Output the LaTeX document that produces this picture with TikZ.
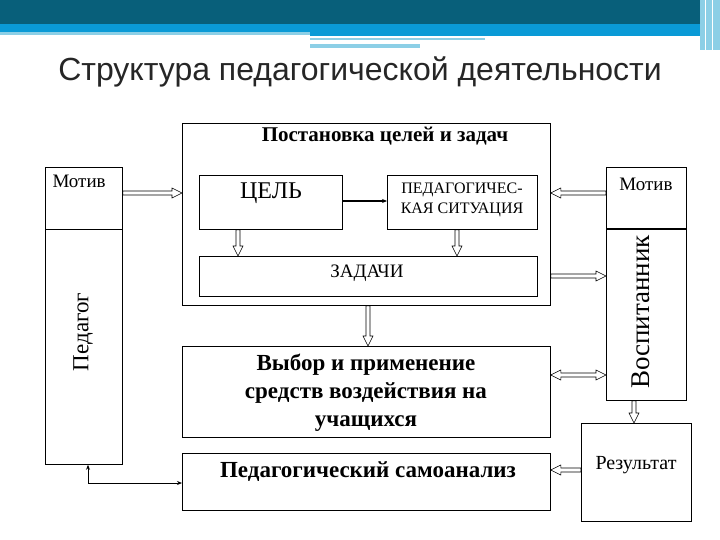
\documentclass[tikz,border=0pt]{standalone}
\usepackage{fontspec}
\setmainfont{Liberation Serif}
\newfontfamily\titlefont{Liberation Sans}
\usetikzlibrary{arrows.meta,calc}
\definecolor{band}{HTML}{085F7A}
\definecolor{bandlight}{HTML}{0A9AD6}
\definecolor{bandpale}{HTML}{8CCFE6}
\tikzset{
  box/.style={draw, line width=0.8pt, inner sep=0pt, anchor=north west},
  harr/.style={draw, line width=0.6pt, to path={
    ($(\tikztostart)!2pt!90:(\tikztotarget)$)
    -- ($($(\tikztotarget)!10pt!(\tikztostart)$)!2pt!-90:(\tikztostart)$)
    -- ($($(\tikztotarget)!10pt!(\tikztostart)$)!5pt!-90:(\tikztostart)$)
    -- (\tikztotarget)
    -- ($($(\tikztotarget)!10pt!(\tikztostart)$)!5pt!90:(\tikztostart)$)
    -- ($($(\tikztotarget)!10pt!(\tikztostart)$)!2pt!90:(\tikztostart)$)
    -- ($(\tikztostart)!2pt!-90:(\tikztotarget)$) -- cycle}},
  harrtwo/.style={draw, line width=0.6pt, to path={
    ($($(\tikztostart)!10pt!(\tikztotarget)$)!2pt!90:(\tikztotarget)$)
    -- ($($(\tikztotarget)!10pt!(\tikztostart)$)!2pt!-90:(\tikztostart)$)
    -- ($($(\tikztotarget)!10pt!(\tikztostart)$)!5pt!-90:(\tikztostart)$)
    -- (\tikztotarget)
    -- ($($(\tikztotarget)!10pt!(\tikztostart)$)!5pt!90:(\tikztostart)$)
    -- ($($(\tikztotarget)!10pt!(\tikztostart)$)!2pt!90:(\tikztostart)$)
    -- ($($(\tikztostart)!10pt!(\tikztotarget)$)!2pt!-90:(\tikztotarget)$)
    -- ($($(\tikztostart)!10pt!(\tikztotarget)$)!5pt!-90:(\tikztotarget)$)
    -- (\tikztostart)
    -- ($($(\tikztostart)!10pt!(\tikztotarget)$)!5pt!90:(\tikztotarget)$)
    -- cycle}},
  tip/.style={-{Stealth[length=5pt,width=4pt]}},
}
\begin{document}
\begin{tikzpicture}[x=1pt,y=-1pt]
\useasboundingbox (0,0) rectangle (720,540);
% header
\fill[band] (0,0) rectangle (720,24);
\fill[bandlight] (0,24) rectangle (720,32);
\fill[bandpale] (0,32) rectangle (310,35);
\fill[bandlight] (310,32) rectangle (700,36);
\fill[bandpale] (310,38) rectangle (485,40);
\fill[bandpale] (310,44) rectangle (420,48);
\fill[bandpale] (700,0) rectangle (720,50);
\draw[white, line width=1pt] (705,0) -- (705,50) (712,0) -- (712,50);
\node[font=\titlefont\fontsize{32}{36}\selectfont, color=black!85] (title) at (360,72) {Структура педагогической деятельности};
% boxes
\node[box, minimum width=368, minimum height=182] (outer) at (182,123) {};
\node[font=\bfseries\fontsize{21}{24}\selectfont] (post) at (385,136) {Постановка целей и задач};
\node[box, minimum width=77, minimum height=62] (motL) at (45,167) {};
\node[font=\fontsize{19}{22}\selectfont, anchor=north west] (motLt) at (49,172) {Мотив};
\node[box, minimum width=77, minimum height=235] (ped) at (45,229) {};
\node[font=\fontsize{23}{26}\selectfont, rotate=90] (pedt) at (83,332) {Педагог};
\node[box, minimum width=143, minimum height=54] (cel) at (199,175) {};
\node[font=\fontsize{24}{26}\selectfont] (celt) at (271,193) {ЦЕЛЬ};
\node[box, minimum width=150, minimum height=54] (sit) at (387,175) {};
\node[font=\fontsize{16}{20}\selectfont, align=center] (sitt) at (462,200) {ПЕДАГОГИЧЕС-\\КАЯ СИТУАЦИЯ};
\node[box, minimum width=338, minimum height=40] (zad) at (199,256) {};
\node[font=\fontsize{19}{22}\selectfont] (zadt) at (367,273) {ЗАДАЧИ};
\node[box, minimum width=80, minimum height=62] (motR) at (606,167) {};
\node[font=\fontsize{19}{22}\selectfont] (motRt) at (646,184) {Мотив};
\node[box, minimum width=80, minimum height=171] (vos) at (606,229) {};
\draw[line width=1.5pt] (vos.north west) -- (vos.north east);
\node[font=\fontsize{27}{30}\selectfont, rotate=90] (vost) at (641,312) {Воспитанник};
\node[box, minimum width=368, minimum height=91] (vyb) at (182,346) {};
\node[font=\bfseries\fontsize{23}{28}\selectfont, align=center] (vybt) at (366,393) {Выбор и применение\\средств воздействия на\\учащихся};
\node[box, minimum width=368, minimum height=57] (sam) at (182,453) {};
\node[font=\bfseries\fontsize{23}{26}\selectfont] (samt) at (368,472) {Педагогический самоанализ};
\node[box, minimum width=110, minimum height=98] (res) at (581,423) {};
\node[font=\fontsize{20}{23}\selectfont] (rest) at (636,465) {Результат};
% hollow arrows
\path[harr] (motL.east |- 0,193) to (outer.west |- 0,193);
\path[harr] (motR.west |- 0,193) to (outer.east |- 0,193);
\path[harr] (outer.east |- 0,276) to (vos.west |- 0,276);
\path[harr] (cel.south -| 238,0) to (zad.north -| 238,0);
\path[harr] (sit.south -| 457,0) to (zad.north -| 457,0);
\path[harr] (outer.south -| 368,0) to (vyb.north -| 368,0);
\path[harrtwo] (vyb.east |- 0,375) to (vos.west |- 0,375);
\path[harr] (vos.south -| 634,0) to (res.north -| 634,0);
\path[harr] (res.west |- 0,470) to (sam.east |- 0,470);
% line arrows
\draw[tip, line width=1.6pt] (cel.east |- 0,201) -- (sit.west |- 0,201);
\draw[line width=0.9pt, {Stealth[length=5pt,width=4pt]}-{Stealth[length=5pt,width=4pt]}] (ped.south -| 88,0) -- (88,483) -- (sam.west |- 0,483);
\end{tikzpicture}
\end{document}
